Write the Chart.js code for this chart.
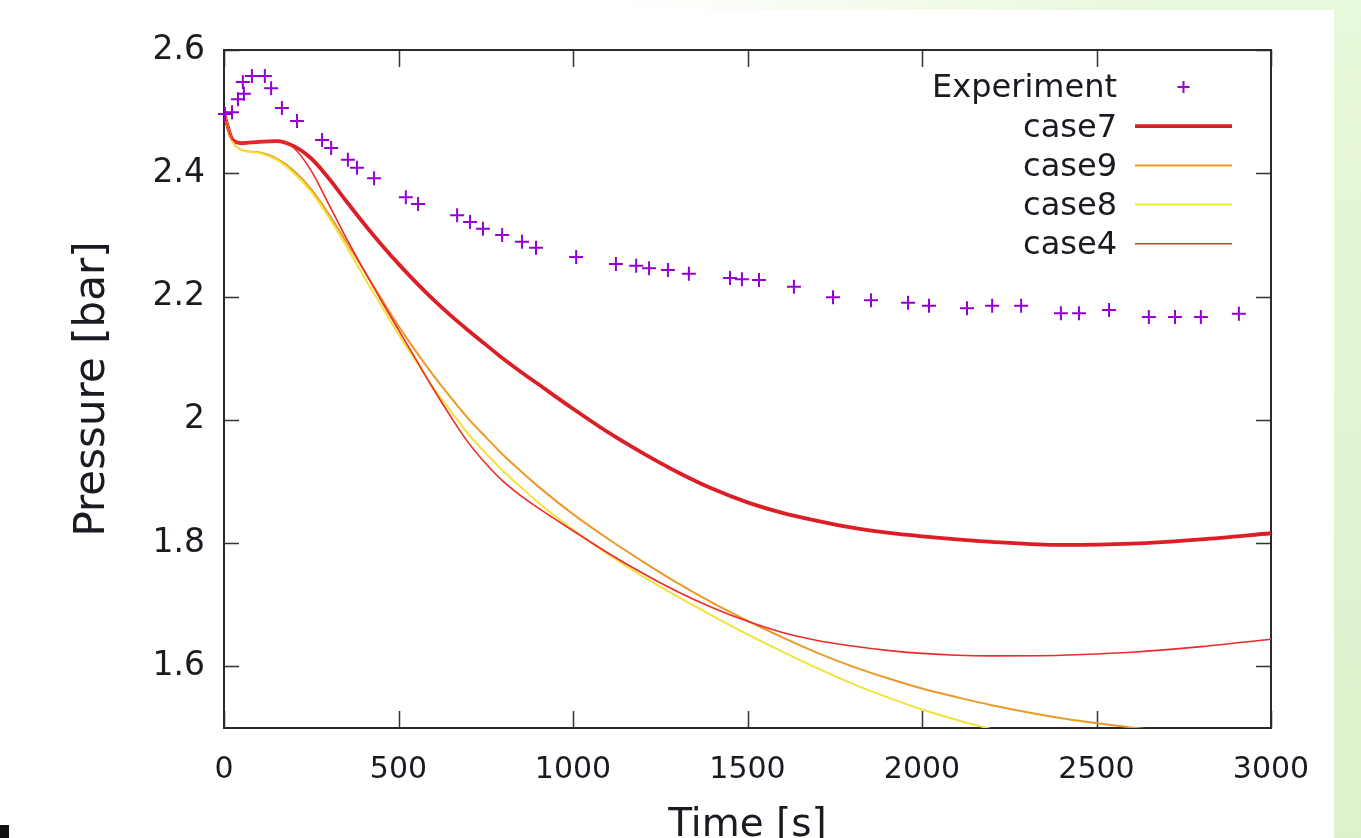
<!DOCTYPE html>
<html>
<head>
<meta charset="utf-8">
<script src="https://cdn.jsdelivr.net/npm/chart.js@4.4.0/dist/chart.umd.min.js"></script>
<style>
html,body{margin:0;padding:0;background:#fff;overflow:hidden;}
#wrap{position:relative;width:1361px;height:838px;background:#fff;}
#greenR{position:absolute;left:1334px;top:0;width:27px;height:838px;background:linear-gradient(#e8f8da,#ddf1cc);}
#greenT{position:absolute;left:0;top:0;width:1361px;height:10px;background:linear-gradient(90deg,rgba(232,248,218,0) 45%,#e8f8da 85%);}
#mark{position:absolute;left:0;top:825px;width:9px;height:13px;background:#111;}
canvas{position:absolute;left:0;top:0;}
</style>
</head>
<body>
<div id="wrap">
  <div id="greenT"></div>
  <div id="greenR"></div>
  <div id="mark"></div>
  <canvas id="c" width="1361" height="838"></canvas>
</div>
<script>
// ---- data ----
const xTicks = [0, 500, 1000, 1500, 2000, 2500, 3000];
const yTicks = [1.6, 1.8, 2, 2.2, 2.4, 2.6];

const expTime = [3,23,40,57,54,80,117,135,166,209,281,307,355,381,430,521,556,668,705,742,797,854,894,1009,1123,1181,1218,1272,1332,1450,1484,1533,1633,1745,1854,1960,2020,2129,2201,2284,2398,2450,2536,2650,2725,2799,2908];
const expPressure = [2.496,2.499,2.52,2.529,2.548,2.558,2.558,2.538,2.506,2.485,2.454,2.441,2.422,2.409,2.392,2.361,2.350,2.332,2.321,2.310,2.300,2.289,2.279,2.264,2.253,2.250,2.246,2.243,2.237,2.230,2.228,2.227,2.216,2.199,2.194,2.190,2.185,2.181,2.185,2.185,2.173,2.173,2.178,2.167,2.167,2.167,2.172];

const simTime = [0,25,50,100,150,200,250,300,350,400,450,500,550,600,650,700,750,800,850,900,1000,1100,1200,1300,1400,1500,1600,1700,1800,1900,2000,2100,2200,2400,2600,2800,3000];
const case7 = [2.497,2.454,2.449,2.451,2.452,2.444,2.424,2.392,2.355,2.319,2.285,2.253,2.223,2.195,2.169,2.145,2.122,2.099,2.078,2.058,2.018,1.980,1.946,1.915,1.888,1.866,1.849,1.836,1.825,1.817,1.811,1.806,1.802,1.797,1.799,1.806,1.816];
const case9 = [2.497,2.451,2.438,2.434,2.424,2.404,2.374,2.334,2.289,2.243,2.197,2.152,2.111,2.072,2.036,2.002,1.972,1.943,1.917,1.892,1.847,1.807,1.770,1.735,1.703,1.674,1.647,1.622,1.600,1.581,1.564,1.550,1.537,1.516,1.501,1.488,null];
const case8 = [2.497,2.451,2.438,2.433,2.422,2.400,2.370,2.329,2.282,2.233,2.186,2.139,2.095,2.052,2.014,1.977,1.946,1.917,1.891,1.866,1.822,1.782,1.746,1.713,1.682,1.652,1.624,1.597,1.572,1.550,1.530,1.513,1.498,null,null,null,null];
const case4 = [2.497,2.454,2.449,2.451,2.451,2.441,2.404,2.350,2.295,2.244,2.194,2.146,2.098,2.050,2.005,1.963,1.929,1.900,1.877,1.857,1.820,1.784,1.751,1.721,1.695,1.673,1.655,1.642,1.633,1.626,1.621,1.618,1.617,1.618,1.623,1.632,1.644];

const labels = ['Experiment','case7','case9','case8','case4'];

function pts(xs, ys){ const o=[]; xs.forEach((x,i)=>{ if(ys[i]!==null && ys[i]!==undefined) o.push({x:x,y:ys[i]}); }); return o; }

const FONT = 'DejaVu Sans';

const framePlugin = {
  id:'frame',
  beforeDatasetsDraw(chart){
    const {ctx, chartArea:a, scales} = chart;
    ctx.save();
    ctx.strokeStyle = '#333';
    ctx.lineWidth = 1.5;
    ctx.beginPath();
    xTicks.forEach(v=>{
      const px = Math.round(scales.x.getPixelForValue(v))+0.5;
      ctx.moveTo(px, a.bottom); ctx.lineTo(px, a.bottom-17);
      ctx.moveTo(px, a.top); ctx.lineTo(px, a.top+17);
    });
    yTicks.forEach(v=>{
      const py = Math.round(scales.y.getPixelForValue(v))+0.5;
      ctx.moveTo(a.left, py); ctx.lineTo(a.left+15, py);
      ctx.moveTo(a.right, py); ctx.lineTo(a.right-15, py);
    });
    ctx.stroke();
    ctx.lineWidth = 2;
    ctx.strokeStyle = '#2a2a2a';
    ctx.strokeRect(a.left, a.top, a.right-a.left, a.bottom-a.top);
    ctx.restore();
  }
};

const legendPlugin = {
  id:'gpLegend',
  afterDraw(chart){
    const {ctx, chartArea:a} = chart;
    const textRight = a.right - 154;
    const lx0 = a.right - 136, lx1 = a.right - 39;
    const y0 = a.top + 37, step = 39.2;
    ctx.save();
    ctx.font = '32px "' + FONT + '"';
    ctx.textAlign = 'right';
    ctx.textBaseline = 'middle';
    chart.data.datasets.forEach((ds,i)=>{
      const y = y0 + i*step;
      ctx.fillStyle = '#1a1a22';
      ctx.fillText(ds.label, textRight, y+2);
      if (ds.showLine === false) {
        const cx = (lx0+lx1)/2, r = 6;
        ctx.strokeStyle = ds.borderColor; ctx.lineWidth = 2;
        ctx.beginPath();
        ctx.moveTo(cx-r, y); ctx.lineTo(cx+r, y);
        ctx.moveTo(cx, y-r); ctx.lineTo(cx, y+r);
        ctx.stroke();
      } else {
        ctx.strokeStyle = ds.borderColor; ctx.lineWidth = ds.borderWidth;
        ctx.beginPath(); ctx.moveTo(lx0, y); ctx.lineTo(lx1, y); ctx.stroke();
      }
    });
    ctx.restore();
  }
};

new Chart(document.getElementById('c'), {
  type:'line',
  data:{
    datasets:[
      {label:labels[0], data:pts(expTime, expPressure), showLine:false, borderColor:'#9400d3', backgroundColor:'#9400d3',
       pointStyle:'cross', pointRadius:7, pointBorderWidth:2, clip:false, order:0},
      {label:labels[1], data:pts(simTime, case7), borderColor:'#dc1f26', borderWidth:3.8, pointRadius:0, cubicInterpolationMode:'monotone', order:4},
      {label:labels[2], data:pts(simTime, case9), borderColor:'#eb9a28', borderWidth:2, pointRadius:0, cubicInterpolationMode:'monotone', order:3},
      {label:labels[3], data:pts(simTime, case8), borderColor:'#f2e23c', borderWidth:2, pointRadius:0, cubicInterpolationMode:'monotone', order:2},
      {label:labels[4], data:pts(simTime, case4), borderColor:'#ee2a2a', borderWidth:1.6, pointRadius:0, cubicInterpolationMode:'monotone', order:1}
    ]
  },
  options:{
    responsive:false,
    animation:false,
    events:[],
    layout:{padding:{left:0,right:90,top:50,bottom:0}},
    plugins:{legend:{display:false}, tooltip:{enabled:false}},
    scales:{
      x:{
        type:'linear', min:0, max:3000,
        afterBuildTicks:(s)=>{ s.ticks = xTicks.map(v=>({value:v})); },
        afterFit:(s)=>{ s.height = 110; },
        grid:{display:false, drawTicks:false},
        border:{display:false},
        ticks:{padding:24, maxRotation:0, autoSkip:false, color:'#1a1a22', font:{family:FONT, size:30}, callback:(v)=>String(v)},
        title:{display:true, text:'Time [s]', color:'#1a1a22', font:{family:FONT, size:39, lineHeight:0.6}, padding:0}
      },
      y:{
        type:'linear', min:1.5, max:2.6,
        afterBuildTicks:(s)=>{ s.ticks = yTicks.map(v=>({value:v})); },
        afterFit:(s)=>{ s.width = 224; },
        grid:{display:false, drawTicks:false},
        border:{display:false},
        ticks:{padding:19, autoSkip:false, color:'#1a1a22', font:{family:FONT, size:33}, callback:(v)=>String(v)},
        title:{display:true, text:'Pressure [bar]', color:'#1a1a22', font:{family:FONT, size:42}, padding:{top:68,bottom:0}}
      }
    }
  },
  plugins:[framePlugin, legendPlugin]
});
</script>
</body>
</html>
